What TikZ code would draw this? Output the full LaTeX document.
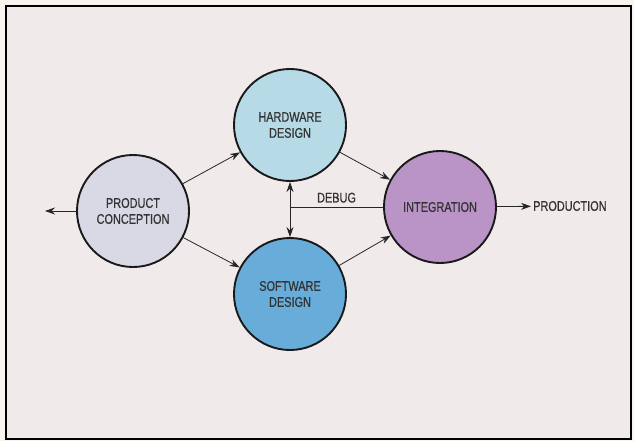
\documentclass[tikz,border=0pt]{standalone}
\usepackage{fontspec}
\setmainfont{Liberation Sans}[FakeStretch=0.78,FakeBold=0.6]
\usepackage{xcolor}
\usepackage{tikz}
\usetikzlibrary{arrows.meta,positioning,calc}
\definecolor{paper}{HTML}{F8F5EF}
\definecolor{panel}{HTML}{F0EAEA}
\definecolor{conceptfill}{HTML}{D9D9E6}
\definecolor{hwfill}{HTML}{B6DBE7}
\definecolor{swfill}{HTML}{68ACDA}
\definecolor{intfill}{HTML}{BA94C6}
\tikzset{
  phase/.style={circle,draw=black!90,line width=1.9pt,minimum size=112pt,inner sep=0pt,align=center,text=black!80},
  tag/.style={inner sep=2pt,text=black!80},
  arrow/.style={-{Stealth[length=10pt,width=7pt]},line width=0.8pt,draw=black!85},
  twoway/.style={{Stealth[length=10pt,width=7pt]}-{Stealth[length=10pt,width=7pt]},line width=0.8pt,draw=black!85}
}
\begin{document}
\begin{tikzpicture}[x=1pt,y=-1pt,font=\fontsize{14}{16}\selectfont]
    \useasboundingbox (0,0) rectangle (634,441);
    \fill[paper] (0,0) rectangle (634,441);
    \draw[line width=2pt,fill=panel] (6,6) rectangle (631,439);
    % stages
    \node[phase,fill=conceptfill] (concept) at (133,211) {PRODUCT\\CONCEPTION};
    \node[phase,fill=hwfill] (hw) at (290,125) {HARDWARE\\DESIGN};
    \node[phase,fill=swfill] (sw) at (290,294) {SOFTWARE\\DESIGN};
    \node[phase,fill=intfill] (integ) at (440,207) {INTEGRATION};
    \node[tag,anchor=west] (prod) at (531,206) {PRODUCTION};
    \coordinate (back) at (45,211);
    \coordinate (dbg) at (hw |- integ.west);
    % flows
    \draw[arrow] (concept) -- (back);
    \draw[arrow] (concept) -- (hw);
    \draw[arrow] (concept) -- (sw);
    \draw[arrow] (hw) -- (integ);
    \draw[arrow] (sw) -- (integ);
    \draw[arrow] (integ) -- (prod);
    \draw[twoway] (hw) -- (sw);
    \draw[line width=0.8pt,draw=black!85] (integ.west) -- node[tag,above=2pt] (debug) {DEBUG} (dbg);
  \end{tikzpicture}
\end{document}
